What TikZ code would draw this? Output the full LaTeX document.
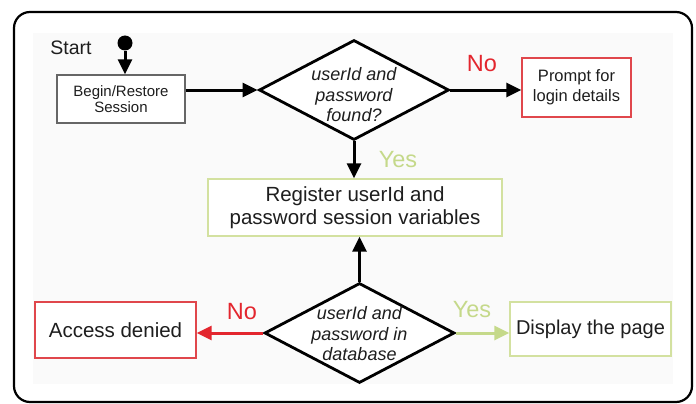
\documentclass[tikz,border=0pt]{standalone}
\usepackage{fontspec}
\setmainfont{Liberation Sans}
\usetikzlibrary{arrows.meta,shapes.geometric}
\definecolor{myred}{HTML}{E3262E}
\definecolor{boxred}{HTML}{E0474C}
\definecolor{mygreen}{HTML}{C5D98A}
\definecolor{boxgreen}{HTML}{D3E1A0}
\definecolor{txt}{HTML}{1E1E1E}
\definecolor{boxgray}{HTML}{666666}
\begin{document}
\begin{tikzpicture}[x=1pt,y=-1pt,
  conn/.style={line width=3pt, draw=black, -{Triangle[length=15pt,width=14pt]}},
  plainbox/.style={draw=#1, line width=1.3pt, fill=white, inner sep=0pt, align=center, text=txt},
  decision/.style={shape=diamond, draw=black, line width=2.8pt, fill=white, inner sep=0pt,
    minimum width=190pt, minimum height=100pt},
  dectext/.style={align=center, text=txt, font=\fontsize{18}{20.5}\selectfont\itshape},
  answer/.style={font=\fontsize{23.5}{23.5}\selectfont, text=#1}
]
\useasboundingbox (0,0) rectangle (696,404);
\fill[black!2] (33,33) rectangle (673,384);
\draw[line width=2.2pt, rounded corners=16pt] (14,12) rectangle (692,402);

% nodes
\node[circle, fill=black, minimum size=15pt, inner sep=0pt] (dot) at (125,43) {};
\node[font=\fontsize{19.5}{19.5}\selectfont, text=txt] (start) at (71,48) {Start};
\node[plainbox=boxgray, minimum width=128pt, minimum height=48pt,
  font=\fontsize{15}{15.5}\selectfont] (begin) at (121,99) {Begin/Restore\\Session};
\node[decision] (d1) at (354,90) {};
\node[dectext] (d1t) at (354,95) {userId and\\password\\found?};
\node[plainbox=boxred, minimum width=109pt, minimum height=59pt,
  font=\fontsize{16.5}{20}\selectfont] (prompt) at (576.5,87.5) {Prompt for\\login details};
\node[plainbox=boxgreen, minimum width=294pt, minimum height=57pt,
  font=\fontsize{20.5}{22.5}\selectfont] (reg) at (355,207.5) {Register userId and\\password session variables};
\node[decision] (d2) at (359.5,333) {};
\node[dectext] (d2t) at (359.5,334) {userId and\\password in\\database};
\node[plainbox=boxred, minimum width=161pt, minimum height=56pt,
  font=\fontsize{20.5}{22}\selectfont] (access) at (115.5,330) {Access denied};
\node[plainbox=boxgreen, minimum width=161pt, minimum height=54pt,
  font=\fontsize{20}{22}\selectfont] (display) at (590.5,329) {Display the page};

% labels
\node[answer=myred] (no1) at (482,64) {No};
\node[answer=mygreen] (yes1) at (398,160) {Yes};
\node[answer=myred] (no2) at (242,312) {No};
\node[answer=mygreen] (yes2) at (472,310) {Yes};

% connectors
\draw[conn] (dot) -- (dot |- begin.north);
\draw[conn] (begin.east |- d1.west) -- (d1.west);
\draw[conn] (d1.east) -- (prompt.west |- d1.east);
\draw[conn] (d1.south) -- (d1.south |- reg.north);
\draw[conn] (d2.north) -- (d2.north |- reg.south);
\draw[conn, draw=myred, color=myred] (d2.west) -- (access.east |- d2.west);
\draw[conn, draw=mygreen, color=mygreen] (d2.east) -- (display.west |- d2.east);
\end{tikzpicture}
\end{document}
